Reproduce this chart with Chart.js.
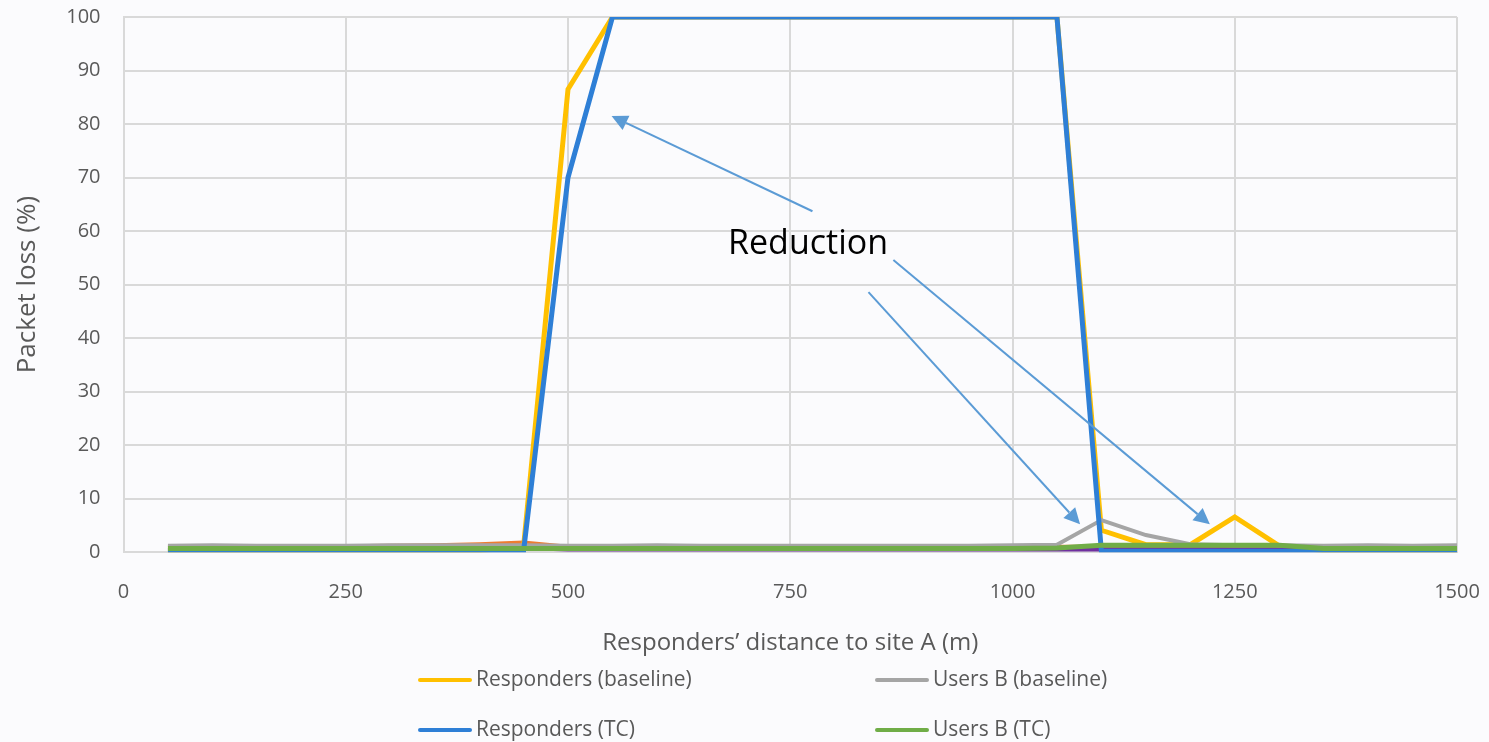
<!DOCTYPE html>
<html>
<head>
<meta charset="utf-8">
<script src="https://cdn.jsdelivr.net/npm/chart.js@4.4.1/dist/chart.umd.min.js"></script>
<style>
  html, body { margin: 0; padding: 0; background: #fbfbfd; }
  #wrap { width: 1489px; height: 742px; position: relative; }
</style>
</head>
<body>
<div id="wrap"><canvas id="lossChart"></canvas></div>
<script>
// distances (m)
const distances = [50, 100, 150, 200, 250, 300, 350, 400, 450, 500, 550, 600, 650, 700, 750,
  800, 850, 900, 950, 1000, 1050, 1100, 1150, 1200, 1250, 1300, 1350, 1400, 1450, 1500];

// packet loss (%) per series
const respondersBaseline = [0.3, 0.3, 0.3, 0.3, 0.3, 0.3, 0.3, 0.3, 1.0, 86.5, 100, 100, 100, 100, 100,
  100, 100, 100, 100, 100, 100, 4.1, 1.4, 1.4, 6.6, 1.2, 0.3, 0.3, 0.3, 0.3];
const respondersTC = [0.2, 0.2, 0.2, 0.2, 0.2, 0.2, 0.2, 0.2, 0.2, 70, 100, 100, 100, 100, 100,
  100, 100, 100, 100, 100, 100, 0.2, 0.2, 0.2, 0.2, 0.2, 0.2, 0.2, 0.2, 0.2];
const usersBBaseline = [1.2, 1.3, 1.2, 1.2, 1.2, 1.3, 1.3, 1.3, 1.3, 1.2, 1.2, 1.3, 1.2, 1.2, 1.2,
  1.2, 1.2, 1.2, 1.2, 1.3, 1.4, 6.0, 3.2, 1.5, 1.3, 1.3, 1.2, 1.3, 1.2, 1.3];
const usersBTC = [0.7, 0.7, 0.7, 0.7, 0.7, 0.7, 0.7, 0.7, 0.7, 0.7, 0.7, 0.7, 0.7, 0.7, 0.7,
  0.7, 0.7, 0.7, 0.7, 0.7, 0.8, 1.3, 1.3, 1.3, 1.3, 1.3, 0.7, 0.7, 0.7, 0.7];
const usersABaseline = [1.0, 1.0, 1.0, 1.0, 1.1, 1.2, 1.3, 1.5, 1.8, 1.0, 1.0, 1.0, 1.0, 1.0, 1.0,
  1.0, 1.0, 1.0, 1.0, 1.0, 1.0, 1.0, 1.0, 1.0, 1.0, 1.0, 1.0, 1.0, 1.0, 1.0];
const usersATC = [0.5, 0.5, 0.5, 0.5, 0.6, 0.9, 1.0, 1.0, 0.8, 0.5, 0.5, 0.5, 0.5, 0.5, 0.5,
  0.5, 0.5, 0.5, 0.5, 0.5, 0.5, 0.5, 0.5, 0.5, 0.5, 0.5, 0.5, 0.4, 0.4, 0.4];

// "Reduction" note: text anchor and arrows (tail -> head), in data units
const noteText = 'Reduction';
const noteAt = [770, 57.6];
const noteArrows = [
  [[775, 63.7], [549, 81.5]],
  [[838, 48.6], [1076, 5.2]],
  [[866, 54.6], [1222, 5.2]]
];

const toPoints = ys => ys.map((y, i) => ({ x: distances[i], y: y }));

function line(label, values, color, width, order, inLegend) {
  return {
    label: label,
    data: toPoints(values),
    borderColor: color,
    backgroundColor: color,
    borderWidth: width,
    pointRadius: 0,
    tension: 0,
    order: order,
    inLegend: inLegend
  };
}

const noteLayer = {
  id: 'noteLayer',
  afterDatasetsDraw(chart) {
    const { ctx, scales: { x, y } } = chart;
    ctx.save();
    ctx.strokeStyle = '#5b9bd5';
    ctx.fillStyle = '#5b9bd5';
    ctx.lineWidth = 2;
    noteArrows.forEach(([a, b]) => {
      const x1 = x.getPixelForValue(a[0]), y1 = y.getPixelForValue(a[1]);
      const x2 = x.getPixelForValue(b[0]), y2 = y.getPixelForValue(b[1]);
      const ang = Math.atan2(y2 - y1, x2 - x1);
      const len = 16, half = 8;
      const bx = x2 - len * Math.cos(ang), by = y2 - len * Math.sin(ang);
      ctx.beginPath();
      ctx.moveTo(x1, y1);
      ctx.lineTo(bx, by);
      ctx.stroke();
      ctx.beginPath();
      ctx.moveTo(x2, y2);
      ctx.lineTo(bx + half * Math.sin(ang), by - half * Math.cos(ang));
      ctx.lineTo(bx - half * Math.sin(ang), by + half * Math.cos(ang));
      ctx.closePath();
      ctx.fill();
    });
    ctx.fillStyle = '#000';
    ctx.font = '34px "Open Sans"';
    ctx.textAlign = 'center';
    ctx.textBaseline = 'middle';
    ctx.fillText(noteText, x.getPixelForValue(noteAt[0]), y.getPixelForValue(noteAt[1]));
    ctx.restore();
  }
};

// two-column legend under the axis title
const gridLegend = {
  id: 'gridLegend',
  afterDraw(chart) {
    const ctx = chart.ctx;
    const items = chart.data.datasets.filter(d => d.inLegend);
    const cols = [418, 875], rows = [680, 730];
    ctx.save();
    ctx.font = '21px "Open Sans"';
    ctx.textBaseline = 'middle';
    ctx.lineCap = 'round';
    items.forEach((d, i) => {
      const cx = cols[i % 2], cy = rows[Math.floor(i / 2)];
      ctx.strokeStyle = d.borderColor;
      ctx.lineWidth = 4;
      ctx.beginPath();
      ctx.moveTo(cx + 2, cy);
      ctx.lineTo(cx + 52, cy);
      ctx.stroke();
      ctx.fillStyle = '#595959';
      ctx.fillText(d.label, cx + 58, cy);
    });
    ctx.restore();
  }
};

Chart.defaults.font.family = '"Open Sans", sans-serif';
Chart.defaults.color = '#595959';

new Chart(document.getElementById('lossChart'), {
  type: 'line',
  data: {
    datasets: [
      line('Responders (baseline)', respondersBaseline, '#ffc000', 5, 4, true),
      line('Users B (baseline)', usersBBaseline, '#a5a5a5', 4, 2, true),
      line('Responders (TC)', respondersTC, '#2e7fd6', 5, 1, true),
      line('Users B (TC)', usersBTC, '#70ad47', 5, 0, true),
      line('Users A (baseline)', usersABaseline, '#ed7d31', 4, 5, false),
      line('Users A (TC)', usersATC, '#7030a0', 4, 3, false)
    ]
  },
  options: {
    responsive: true,
    maintainAspectRatio: false,
    animation: false,
    layout: { padding: { top: 0, right: 0, bottom: 84, left: 4 } },
    plugins: {
      legend: { display: false },
      tooltip: { enabled: false }
    },
    scales: {
      x: {
        type: 'linear',
        min: 0,
        max: 1500,
        afterFit: s => { s.paddingRight = 32; },
        ticks: { stepSize: 250, font: { size: 20 }, padding: 28, maxRotation: 0, callback: v => String(v) },
        grid: { color: '#d9d9d9', lineWidth: 2, drawTicks: false },
        border: { color: '#d9d9d9', width: 2 },
        title: { display: true, text: 'Responders\u2019 distance to site A (m)', font: { size: 24 }, padding: { top: -3, bottom: 0 } }
      },
      y: {
        min: 0,
        max: 100,
        afterFit: s => { s.paddingTop = 17; },
        ticks: { stepSize: 10, font: { size: 20 }, padding: 23 },
        grid: { color: '#d9d9d9', lineWidth: 2, drawTicks: false },
        border: { color: '#d9d9d9', width: 2 },
        title: { display: true, text: 'Packet loss (%)', font: { size: 26 }, padding: { top: 8, bottom: 0 } }
      }
    }
  },
  plugins: [noteLayer, gridLegend]
});
</script>
</body>
</html>
